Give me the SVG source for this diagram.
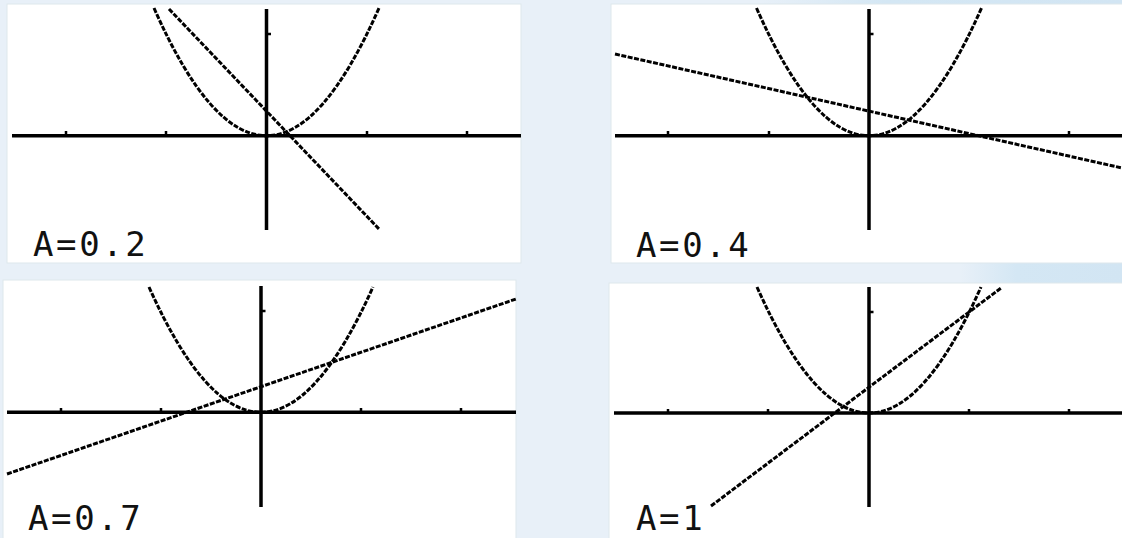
<svg xmlns="http://www.w3.org/2000/svg" width="1122" height="538" viewBox="0 0 1122 538">
<style>
.panel{fill:#ffffff;stroke:#dde7ec;stroke-width:1}
.axis{stroke:#000;stroke-width:3.5;fill:none}
.tick{stroke:#000;stroke-width:2.5;fill:none}
.curve{stroke:#000;stroke-width:3;fill:none;stroke-dasharray:5 1.5}
.lbl{font-family:"DejaVu Sans Mono","Liberation Mono",monospace;font-size:34px;letter-spacing:2.6px;fill:#111}
</style>
<defs>
<linearGradient id="g1" x1="0" y1="0" x2="1" y2="0">
<stop offset="0" stop-color="#e8f0f8"/>
<stop offset="0.35" stop-color="#d4e7f4"/>
<stop offset="1" stop-color="#d2e5f3"/>
</linearGradient>
</defs>
<rect x="0" y="0" width="1122" height="538" fill="#e8f0f8"/>
<rect x="760" y="0" width="362" height="5" fill="url(#g1)"/>
<rect x="960" y="263" width="162" height="20" fill="url(#g1)"/>

<g id="panel1">
<rect class="panel" x="7" y="4" width="514" height="259"/>
<line class="axis" x1="12" y1="135.7" x2="521" y2="135.7"/>
<line class="axis" x1="266.5" y1="9" x2="266.5" y2="230"/>
<path class="tick" d="M66 131V135 M166 131V135 M367 131V135 M467 131V135 M266.5 34H271"/>
<path class="curve" d="M154 8 Q266.5 263.5 379 8"/>
<line class="curve" x1="169" y1="9" x2="379" y2="229"/>
<text class="lbl" x="33" y="256">A=0.2</text>
</g>

<g id="panel2">
<rect class="panel" x="611" y="4" width="512" height="259"/>
<line class="axis" x1="615" y1="135.7" x2="1122" y2="135.7"/>
<line class="axis" x1="869" y1="9" x2="869" y2="230"/>
<path class="tick" d="M668 131V135 M769 131V135 M1069 131V135 M869 34H873.5"/>
<path class="curve" d="M756.5 8 Q869 263.5 981.5 8"/>
<line class="curve" x1="615" y1="54" x2="1122" y2="168"/>
<text class="lbl" x="636" y="257">A=0.4</text>
</g>

<g id="panel3">
<rect class="panel" x="3" y="280" width="513" height="259"/>
<line class="axis" x1="7" y1="412.3" x2="516" y2="412.3"/>
<line class="axis" x1="261" y1="286" x2="261" y2="507"/>
<path class="tick" d="M61 408V412 M161 408V412 M361 408V412 M461 408V412 M261 311H265.5"/>
<path class="curve" d="M149 287 Q261 537.6 373 287"/>
<line class="curve" x1="7" y1="474" x2="516" y2="299"/>
<text class="lbl" x="28" y="529.5">A=0.7</text>
</g>

<g id="panel4">
<rect class="panel" x="609" y="283" width="514" height="256"/>
<line class="axis" x1="614" y1="413" x2="1122" y2="413"/>
<line class="axis" x1="869" y1="287" x2="869" y2="507"/>
<path class="tick" d="M668 409V413 M768 409V413 M969 409V413 M1069 409V413 M869 312H873.5"/>
<path class="curve" d="M757 287 Q869 539 981 287"/>
<line class="curve" x1="711" y1="506" x2="1001" y2="288"/>
<text class="lbl" x="636" y="529.5">A=1</text>
</g>
</svg>
